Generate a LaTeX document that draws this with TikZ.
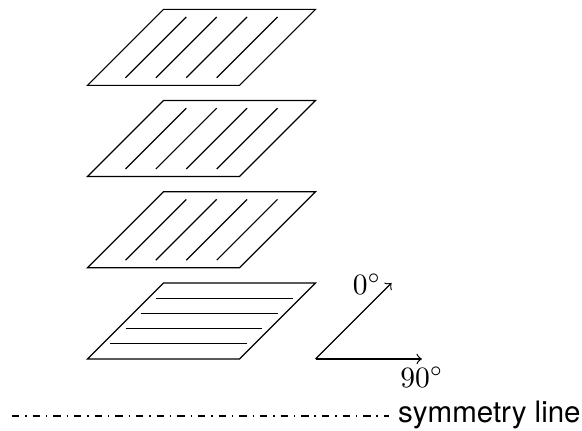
\documentclass[tikz,border=0pt]{standalone}
\usepackage{fontspec}
\usetikzlibrary{positioning}
\newfontfamily\legendfont{TeX Gyre Heros}
\tikzset{
  plate/.style={draw=black,line width=0.4pt},
  fibre/.style={black,line width=0.4pt},
  symline/.style={black,line width=0.6pt,dash pattern=on 2.5pt off 2pt on 0.5pt off 2pt},
}
\begin{document}
\begin{tikzpicture}[x=1.81cm,y=1.81cm]
\useasboundingbox (-0.5757,-0.4738) rectangle (3.2533,2.3617);
% 0 degree plies
\foreach \y in {0.6,1.2,1.8}{
  \draw[plate] (0,\y)--(1,\y)--(1.5,\y+0.5)--(0.5,\y+0.5)--cycle;
  \foreach \x in {0.25,0.45,0.65,0.85}{\draw[fibre] (\x,\y+0.05)--(\x+0.4,\y+0.45);}
}
% 90 degree ply
\draw[plate] (0,0)--(1,0)--(1.5,0.5)--(0.5,0.5)--cycle;
\foreach \y in {0.1,0.2,0.3,0.4}{\draw[fibre] (\y+0.05,\y)--(\y+0.95,\y);}
% directions
\coordinate (axisorigin) at (1.5,0);
\coordinate (axiszero) at (2,0.5);
\coordinate (axisninety) at (2.2,0);
\draw[->] (axisorigin)--(axiszero) node[left=0pt,yshift=-0.3pt] (labelzero) {$0^\circ$};
\draw[->] (axisorigin)--(axisninety) node[below=-0.7pt] (labelninety) {$90^\circ$};
% legend
\coordinate (symstart) at (-0.497,-0.3755);
\node[anchor=west,inner sep=0pt,font=\legendfont] (symlabel) at (2.04,-0.3655) {symmetry line};
\coordinate (symend) at (1.985,-0.3755);
\draw[symline] (symstart)--(symend);
\end{tikzpicture}
\end{document}
